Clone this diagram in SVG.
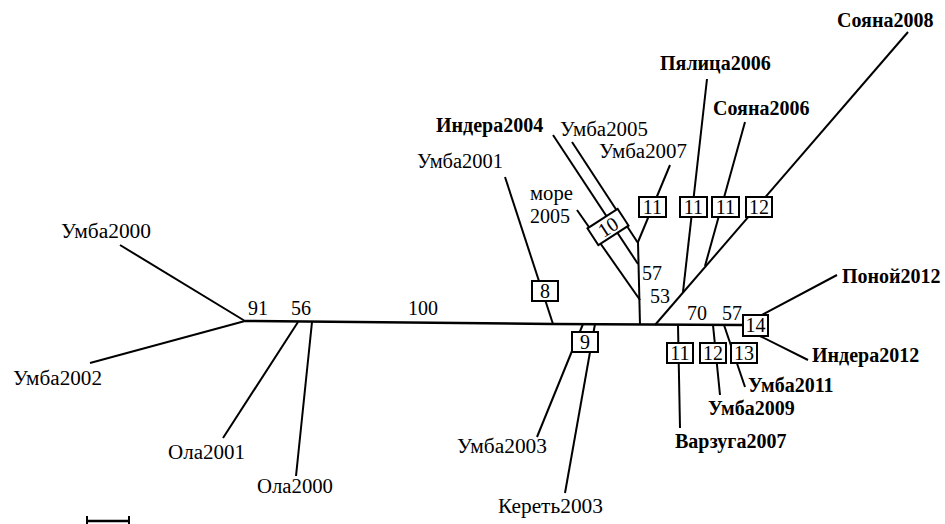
<svg xmlns="http://www.w3.org/2000/svg" width="945" height="524" viewBox="0 0 945 524">
<style>
text{font-family:"Liberation Serif",serif;font-size:20px;fill:#000}
.b{font-weight:bold}
.c{text-anchor:middle}
line,polyline{stroke:#000;stroke-width:2;fill:none;stroke-linecap:butt}
.box{fill:#fff;stroke:#000;stroke-width:2}
</style>
<rect width="945" height="524" fill="#fff"/>
<g id="connectors">
<polyline points="245,321 553,324 742,325" style="stroke-width:2.5"/>
<line x1="245" y1="321" x2="120" y2="245"/>
<line x1="245" y1="321" x2="90" y2="363"/>
<line x1="298" y1="322" x2="223" y2="438"/>
<line x1="312" y1="322" x2="296" y2="476"/>
<line x1="553" y1="324" x2="505" y2="177"/>
<line x1="583" y1="324" x2="537" y2="437"/>
<line x1="595" y1="324" x2="565" y2="493"/>
<line x1="638" y1="242" x2="640" y2="325"/>
<line x1="638" y1="242" x2="670" y2="165"/>
<line x1="638" y1="243" x2="572" y2="142"/>
<line x1="638" y1="264" x2="553" y2="135"/>
<line x1="640" y1="300" x2="577" y2="210"/>
<line x1="655" y1="325" x2="908" y2="32"/>
<line x1="683" y1="292" x2="707" y2="79"/>
<line x1="705" y1="266" x2="745" y2="122"/>
<line x1="678" y1="325" x2="680" y2="428"/>
<line x1="713" y1="325" x2="720" y2="395"/>
<line x1="724" y1="325" x2="745" y2="387"/>
<line x1="760" y1="316" x2="837" y2="275"/>
<line x1="760" y1="336" x2="808" y2="360"/>
</g>
<g id="scale">
<line x1="87" y1="521" x2="129" y2="521" style="stroke-width:2.5"/>
<line x1="87" y1="516" x2="87" y2="524"/>
<line x1="129" y1="516" x2="129" y2="524"/>
</g>
<g id="support">
<text x="248" y="315">91</text>
<text x="291" y="315">56</text>
<text x="408" y="315">100</text>
<text x="642" y="280">57</text>
<text x="650" y="303">53</text>
<text x="687" y="320">70</text>
<text x="722" y="320">57</text>
</g>
<g id="n-umba2000"><text x="61" y="238" textLength="90" lengthAdjust="spacingAndGlyphs">Умба2000</text></g>
<g id="n-umba2002"><text x="13" y="385" textLength="89" lengthAdjust="spacingAndGlyphs">Умба2002</text></g>
<g id="n-ola2001"><text x="168" y="459" textLength="77" lengthAdjust="spacingAndGlyphs">Ола2001</text></g>
<g id="n-ola2000"><text x="257" y="493" textLength="76" lengthAdjust="spacingAndGlyphs">Ола2000</text></g>
<g id="n-umba2001"><text x="417" y="168" textLength="86" lengthAdjust="spacingAndGlyphs">Умба2001</text><rect class="box" x="532" y="281" width="26" height="20"/><text class="c" x="545" y="298">8</text></g>
<g id="n-umba2003"><text x="457" y="453" textLength="90" lengthAdjust="spacingAndGlyphs">Умба2003</text></g>
<g id="n-keret2003"><text x="498" y="513" textLength="105" lengthAdjust="spacingAndGlyphs">Кереть2003</text></g>
<g id="b-9"><rect class="box" x="572" y="332" width="26" height="20"/><text class="c" x="585" y="349">9</text></g>
<g id="n-indera2004"><text class="b" x="436" y="132">Индера2004</text></g>
<g id="n-umba2005"><text x="560" y="136" textLength="88" lengthAdjust="spacingAndGlyphs">Умба2005</text></g>
<g id="b-10" transform="translate(608,227) rotate(-33)"><rect class="box" x="-18" y="-10" width="36" height="20"/><text class="c" x="0" y="7">10</text></g>
<g id="n-umba2007"><text x="599" y="158" textLength="88" lengthAdjust="spacingAndGlyphs">Умба2007</text><rect class="box" x="639" y="197" width="27" height="20"/><text class="c" x="652.5" y="214">11</text></g>
<g id="n-more2005"><text x="530" y="200" textLength="43" lengthAdjust="spacingAndGlyphs">море</text><text x="530" y="223">2005</text></g>
<g id="n-pyalitsa2006"><text class="b" x="660" y="70">Пялица2006</text><rect class="box" x="680" y="197" width="27" height="20"/><text class="c" x="693.5" y="214">11</text></g>
<g id="n-soyana2006"><text class="b" x="713" y="115">Сояна2006</text><rect class="box" x="712" y="197" width="27" height="20"/><text class="c" x="725.5" y="214">11</text></g>
<g id="n-soyana2008"><text class="b" x="837" y="27">Сояна2008</text><rect class="box" x="746" y="197" width="26" height="20"/><text class="c" x="759" y="214">12</text></g>
<g id="b-14"><rect class="box" x="743" y="315" width="25" height="21"/><text class="c" x="755.5" y="332">14</text></g>
<g id="n-ponoi2012"><text class="b" x="842" y="283">Поной2012</text></g>
<g id="n-indera2012"><text class="b" x="812" y="362">Индера2012</text></g>
<g id="n-varzuga2007"><rect class="box" x="667" y="343" width="26" height="20"/><text class="c" x="680" y="360">11</text><text class="b" x="675" y="448">Варзуга2007</text></g>
<g id="n-umba2009"><rect class="box" x="700" y="343" width="26" height="20"/><text class="c" x="713" y="360">12</text><text class="b" x="708" y="415">Умба2009</text></g>
<g id="n-umba2011"><rect class="box" x="731" y="343" width="26" height="20"/><text class="c" x="744" y="360">13</text><text class="b" x="748" y="392">Умба2011</text></g>
</svg>
